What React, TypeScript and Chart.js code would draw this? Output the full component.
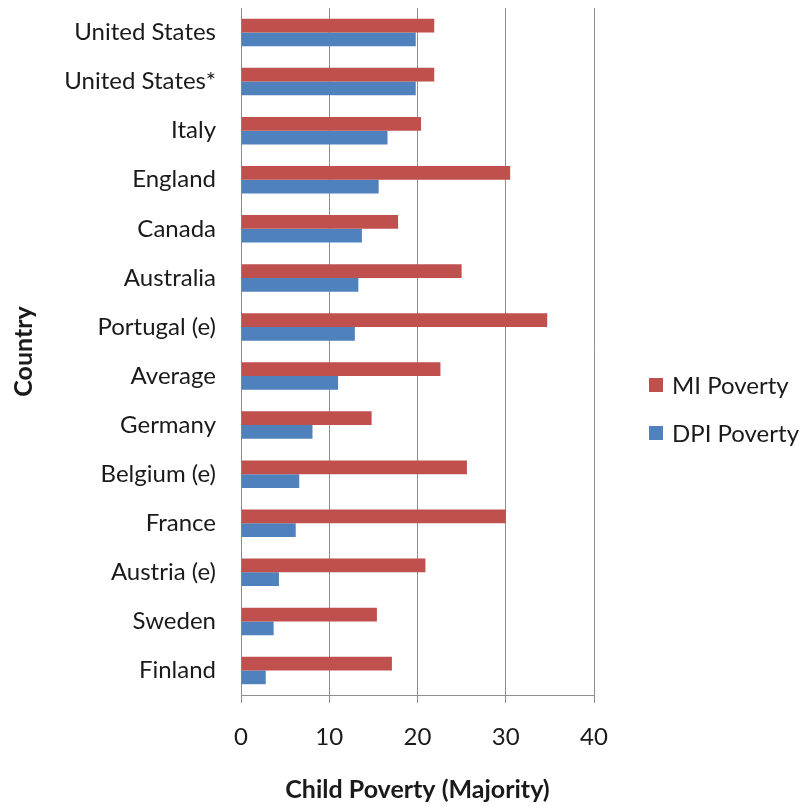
import React, { useEffect, useRef } from "react";
import { Chart, registerables } from "chart.js";

Chart.register(...registerables);

const countries = [
  "United States",
  "United States*",
  "Italy",
  "England",
  "Canada",
  "Australia",
  "Portugal (e)",
  "Average",
  "Germany",
  "Belgium (e)",
  "France",
  "Austria (e)",
  "Sweden",
  "Finland",
];

const miPoverty = [21.9, 21.9, 20.4, 30.5, 17.8, 25.0, 34.7, 22.6, 14.8, 25.6, 30.0, 20.9, 15.4, 17.1];
const dpiPoverty = [19.8, 19.8, 16.6, 15.6, 13.7, 13.3, 12.9, 11.0, 8.1, 6.6, 6.2, 4.3, 3.7, 2.8];

const seriesNames = ["MI Poverty", "DPI Poverty"];
const seriesColors = ["#C0504D", "#4F81BD"];

const FONT = "Lato, 'Open Sans', sans-serif";
const TEXT = "#1a1a1a";
const GRID = "#8e8e8e";

// Legend drawn beside the plot, stacked vertically
const sideLegend = {
  id: "sideLegend",
  afterDraw(chart: Chart) {
    const { ctx, chartArea } = chart;
    const x = chartArea.right + 55;
    const rowGap = 48;
    const startY = chartArea.top + 377;
    ctx.save();
    ctx.font = `24px ${FONT}`;
    ctx.textBaseline = "middle";
    ctx.textAlign = "left";
    chart.data.datasets.forEach((ds, i) => {
      const cy = startY + i * rowGap;
      ctx.fillStyle = ds.backgroundColor as string;
      ctx.fillRect(x, cy - 7, 14, 14);
      ctx.fillStyle = TEXT;
      ctx.fillText(ds.label as string, x + 23, cy + 1);
    });
    ctx.restore();
  },
};

export default function App() {
  const canvasRef = useRef<HTMLCanvasElement | null>(null);

  useEffect(() => {
    if (!canvasRef.current) return;
    const chart = new Chart(canvasRef.current, {
      type: "bar",
      data: {
        labels: countries,
        datasets: [
          {
            label: seriesNames[0],
            data: miPoverty,
            backgroundColor: seriesColors[0],
            categoryPercentage: 0.56,
            barPercentage: 1,
          },
          {
            label: seriesNames[1],
            data: dpiPoverty,
            backgroundColor: seriesColors[1],
            categoryPercentage: 0.56,
            barPercentage: 1,
          },
        ],
      },
      options: {
        indexAxis: "y",
        animation: false,
        responsive: false,
        maintainAspectRatio: false,
        layout: { padding: { top: 8, left: 0, right: 206, bottom: 0 } },
        plugins: {
          legend: { display: false },
          tooltip: { enabled: false },
        },
        scales: {
          x: {
            min: 0,
            max: 40,
            ticks: {
              stepSize: 10,
              color: TEXT,
              font: { family: FONT, size: 24 },
              padding: 20,
            },
            grid: {
              color: GRID,
              lineWidth: 1,
              tickLength: 8,
              drawTicks: true,
            },
            border: { display: true, color: GRID, width: 1 },
            title: {
              display: true,
              text: "Child Poverty (Majority)",
              color: TEXT,
              font: { family: FONT, size: 25, weight: "bold" },
              padding: { top: 0, bottom: 2 },
            },
            afterFit(scale: any) {
              scale.height = 112;
              scale.paddingLeft = 0;
              scale.paddingRight = 0;
            },
          },
          y: {
            ticks: {
              color: TEXT,
              font: { family: FONT, size: 24 },
              padding: 25,
            },
            grid: { display: false, drawTicks: false },
            border: { display: true, color: GRID, width: 1 },
            title: {
              display: true,
              text: "Country",
              color: TEXT,
              font: { family: FONT, size: 25, weight: "bold" },
              padding: { top: 9, bottom: 0 },
            },
            afterFit(scale: any) {
              scale.width = 241;
              scale.paddingTop = 0;
              scale.paddingBottom = 0;
            },
          },
        },
      },
      plugins: [sideLegend],
    });
    return () => chart.destroy();
  }, []);

  return (
    <div style={{ position: "absolute", left: 0, top: 0, width: 800, height: 807, background: "#fff" }}>
      <canvas ref={canvasRef} width={800} height={807} style={{ display: "block" }} />
    </div>
  );
}
